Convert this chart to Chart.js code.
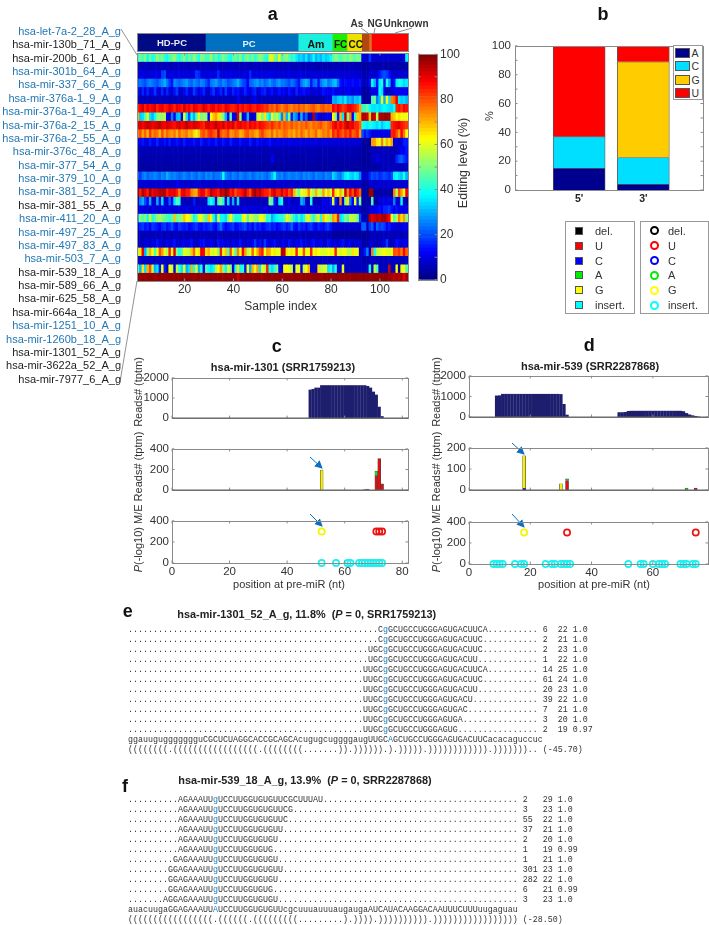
<!DOCTYPE html>
<html>
<head>
<meta charset="utf-8">
<script src="https://cdn.jsdelivr.net/npm/chart.js@4"></script>
<style>
  html, body { margin: 0; padding: 0; background: #fff; }
  #page { position: relative; width: 709px; height: 925px; overflow: hidden; font-family: "Liberation Sans", Arial, sans-serif; color: #333; filter: blur(0.35px); }
  #page canvas { position: absolute; }
  .t { position: absolute; white-space: nowrap; line-height: 1; }
  .seq { position: absolute; white-space: pre; font-family: "Liberation Mono", monospace; font-size: 8.33px; line-height: 10px; color: #333; }
  .seq b { color: #1f7fc0; font-weight: normal; }
  .box { position: absolute; border: 1px solid #999; box-sizing: border-box; background: #fff; }
  svg { position: absolute; left: 0; top: 0; }
</style>
</head>
<body>
<div id="page">
  <svg width="709" height="925">
    <defs>
      <marker id="head" markerWidth="8" markerHeight="8" refX="7" refY="4" orient="auto"><path d="M0,0 L8,4 L0,8 Z" fill="#0a6fc0"/></marker>
    </defs>
    <g stroke="#777" stroke-width="0.8" fill="none">
      <path d="M121,29 L137,55"/>
      <path d="M137,281 L120,382"/>
      <path d="M361,28 L368,33"/>
      <path d="M375,28 L374,33"/>
      <path d="M395,33 L412,28"/>
    </g>
    <g stroke="#0a6fc0" stroke-width="1" fill="none" marker-end="url(#head)">
      <path d="M310,457 L322,468"/>
      <path d="M310,514 L322,526"/>
      <path d="M512,443 L524,454"/>
      <path d="M512,514 L524,527"/>
    </g>
  </svg>
</div>
<script>
// panel a
const mirNames = ["hsa-let-7a-2_28_A_g","hsa-mir-130b_71_A_g","hsa-mir-200b_61_A_g","hsa-mir-301b_64_A_g","hsa-mir-337_66_A_g","hsa-mir-376a-1_9_A_g","hsa-mir-376a-1_49_A_g","hsa-mir-376a-2_15_A_g","hsa-mir-376a-2_55_A_g","hsa-mir-376c_48_A_g","hsa-mir-377_54_A_g","hsa-mir-379_10_A_g","hsa-mir-381_52_A_g","hsa-mir-381_55_A_g","hsa-mir-411_20_A_g","hsa-mir-497_25_A_g","hsa-mir-497_83_A_g","hsa-mir-503_7_A_g","hsa-mir-539_18_A_g","hsa-mir-589_66_A_g","hsa-mir-625_58_A_g","hsa-mir-664a_18_A_g","hsa-mir-1251_10_A_g","hsa-mir-1260b_18_A_g","hsa-mir-1301_52_A_g","hsa-mir-3622a_52_A_g","hsa-mir-7977_6_A_g"];
const mirBlue = [1,0,0,1,1,1,1,1,1,1,1,1,1,0,1,1,1,1,0,0,0,0,1,1,0,0,0];

const heatRows = [
  [42,48,45,50,38,48,40,44,52,46,50,42,38,46,48,52,44,40,46,50,42,48,44,52,46,40,50,48,44,46,52,42,48,40,44,50,46,42,38,46,48,44,52,40,46,50,44,48,42,46,52,48,44,40,58,64,50,46,62,44,48,52,46,40,44,36,32,34,30,36,28,32,38,30,34,30,36,32,34,38,46,50,48,44,48,50,46,52,48,46,50,48,10,8,8,18,8,8,8,8,8,8,8,8,8,8,8,8,8,10,38],
  [6,6,5,7,6,5,6,7,5,6,6,5,7,6,5,6,6,7,5,6,6,5,6,7,5,6,6,5,7,6,5,6,6,7,5,6,6,5,6,7,5,6,6,5,7,6,5,6,6,7,5,6,6,5,6,6,7,5,6,6,5,6,7,5,6,5,6,5,5,6,5,5,6,5,4,5,4,5,4,4,6,5,5,6,5,5,6,5,6,5,5,5,3,3,3,6,4,4,4,4,5,4,4,4,4,4,4,4,4,4,4],
  [8,9,10,8,9,10,8,11,10,9,18,20,9,8,10,9,8,11,9,8,10,9,8,10,18,16,9,10,8,9,11,8,10,16,9,8,10,9,11,8,10,9,8,10,9,8,16,10,9,11,8,10,9,8,11,10,9,8,10,9,8,9,10,8,9,8,9,10,8,9,8,9,8,9,8,8,9,8,8,9,8,8,9,8,9,8,8,8,9,8,8,8,5,5,5,8,8,8,8,14,18,20,18,14,8,8,8,8,8,8,8],
  [22,24,22,20,24,26,24,22,20,24,26,30,24,18,14,26,24,22,24,26,28,24,22,26,24,22,26,24,20,16,24,26,28,24,22,26,24,20,22,24,26,30,24,20,18,12,22,24,26,28,24,26,22,24,28,24,22,26,28,24,24,22,20,24,22,18,14,24,28,30,26,14,22,24,14,24,28,30,24,26,30,32,24,14,12,14,12,12,14,12,12,14,6,6,6,14,38,30,14,36,40,14,40,30,10,14,36,40,38,34,36],
  [14,8,16,10,16,8,12,18,10,8,16,8,16,10,6,14,18,8,6,12,16,10,8,18,14,8,12,16,8,6,14,18,10,12,16,8,18,12,8,16,12,14,8,12,16,12,8,14,16,8,10,14,16,8,12,14,8,10,14,10,12,8,14,12,8,16,10,12,14,10,12,8,8,10,8,10,14,12,10,12,14,10,10,10,8,10,12,10,8,10,10,10,3,3,3,6,10,10,10,38,35,10,6,6,8,10,12,10,12,12,10],
  [6,5,6,5,6,5,6,6,5,6,5,6,6,5,6,5,6,6,5,6,5,6,6,5,6,5,6,6,5,6,5,6,6,5,6,5,6,6,5,6,5,12,6,5,6,5,6,6,12,6,5,6,6,5,6,5,6,6,5,6,5,6,6,6,5,6,4,4,4,4,4,4,4,4,4,4,4,8,8,8,30,28,32,34,30,36,28,30,26,32,30,34,4,3,3,5,45,48,25,32,60,30,62,35,75,78,90,35,32,34,30],
  [85,88,92,85,90,86,88,92,84,88,90,85,86,92,88,84,90,88,85,92,86,88,84,90,88,85,86,92,88,84,88,90,85,88,86,84,90,88,85,84,86,90,85,88,84,86,88,85,84,88,86,85,82,84,78,80,76,82,78,74,78,80,76,74,78,76,80,76,78,74,76,78,80,76,74,78,80,76,78,76,88,84,90,86,82,84,88,90,86,84,80,72,42,44,48,38,35,35,36,34,36,38,36,35,34,38,84,86,82,88,86],
  [70,32,35,45,60,35,30,38,50,52,52,55,12,8,25,10,30,32,10,60,35,20,38,30,45,60,48,52,50,12,62,68,72,65,55,50,30,12,45,10,8,90,50,8,12,30,8,6,10,55,60,48,65,45,35,60,50,55,45,25,70,30,50,15,30,25,10,30,15,22,6,8,95,15,10,8,8,10,12,10,62,50,15,70,35,95,50,75,12,40,68,70,95,95,92,68,95,92,55,95,96,97,97,97,70,68,62,65,62,60,62],
  [90,92,88,90,94,92,88,90,92,94,90,88,92,90,88,86,90,92,88,90,94,90,88,92,90,88,86,84,90,92,88,90,94,90,88,92,86,90,88,92,84,88,90,86,88,84,90,86,88,84,88,86,84,82,80,84,80,78,82,76,80,78,76,80,76,78,74,78,76,80,76,74,78,76,78,80,76,74,78,80,86,90,84,88,84,90,94,88,90,84,84,78,42,38,36,40,38,36,34,38,32,36,38,36,84,86,88,90,86,84,82],
  [76,80,72,78,70,82,74,78,76,70,80,72,78,74,72,76,70,78,72,74,76,70,72,66,60,68,78,80,76,82,84,80,78,95,80,76,78,82,72,74,78,76,70,72,78,80,74,76,72,70,78,82,76,74,72,78,70,76,72,74,78,76,72,74,70,76,72,78,74,70,76,72,74,78,70,72,76,74,78,72,84,80,86,82,78,84,80,86,78,80,84,72,20,14,18,14,10,10,10,10,10,10,10,10,84,86,80,72,88,76,62],
  [10,10,14,10,9,15,10,11,16,10,9,14,10,15,9,11,14,10,9,15,10,11,10,14,9,10,15,10,9,14,11,10,15,9,10,14,10,9,15,11,10,9,14,10,9,10,15,10,9,14,10,11,9,10,14,10,9,11,10,9,10,9,11,10,9,10,9,10,9,9,10,9,9,10,8,9,9,10,8,9,9,8,9,8,9,8,9,8,8,9,8,8,3,3,3,3,72,72,65,60,75,58,70,65,72,8,8,8,8,15,15],
  [5,6,5,5,6,5,6,5,5,6,5,6,5,5,6,5,6,5,5,6,5,6,5,5,6,5,6,5,5,6,5,6,5,5,6,5,6,5,5,6,5,6,5,5,6,5,6,5,5,6,5,6,5,5,6,5,6,5,5,6,5,5,6,5,5,6,5,5,6,5,5,5,6,5,5,5,6,5,5,5,5,5,6,5,5,5,5,6,5,5,5,5,3,3,3,4,6,6,6,6,6,6,6,6,6,6,6,8,12,10,14],
  [5,4,5,4,5,4,5,5,4,5,4,5,4,5,4,5,5,4,5,4,5,4,5,4,5,5,4,5,4,5,4,5,4,5,5,4,5,4,5,4,5,4,5,5,4,5,4,5,4,5,4,5,5,4,5,12,5,4,5,4,5,4,5,5,4,5,4,5,4,5,4,5,4,5,4,4,5,4,5,4,5,4,4,5,4,5,4,4,5,4,4,4,3,3,3,4,6,6,10,8,6,6,6,6,6,6,16,20,22,18,14],
  [4,4,3,4,4,3,4,4,3,4,4,3,4,4,3,4,4,3,4,4,3,4,4,3,4,4,3,4,4,3,4,4,3,4,4,3,4,4,3,4,4,3,4,4,3,4,4,3,4,4,3,4,4,3,4,4,3,4,4,3,4,4,3,4,4,3,4,4,3,4,4,3,4,4,3,4,4,3,4,4,3,4,4,3,4,4,3,4,4,3,4,4,3,3,3,3,4,4,4,4,6,6,6,6,6,6,6,6,6,6,6],
  [22,18,24,26,22,24,24,26,24,22,26,24,30,26,24,26,24,22,24,26,24,22,26,24,22,26,24,22,26,24,26,22,24,24,26,38,26,24,22,26,24,22,26,24,22,24,26,22,24,26,24,26,24,22,26,30,38,26,24,26,22,24,26,24,24,26,24,22,26,24,26,24,22,26,24,24,22,26,24,24,34,30,26,24,30,36,38,34,32,36,34,26,8,7,8,16,20,18,20,16,18,20,18,16,20,36,38,34,32,40,30],
  [8,7,8,9,8,7,8,8,7,8,9,8,7,8,8,7,12,8,9,7,8,8,7,8,9,8,7,8,8,7,8,8,7,9,8,8,7,8,8,7,8,9,8,7,8,8,7,8,8,7,8,9,8,7,8,8,7,8,8,7,8,8,7,8,8,7,8,8,7,8,8,7,8,8,7,8,7,8,8,7,8,7,8,8,7,8,7,8,7,8,7,8,4,4,4,8,8,8,8,8,8,8,8,8,8,8,8,8,8,8,8],
  [98,85,95,90,85,98,88,92,92,95,95,95,85,90,88,90,85,75,88,90,85,85,75,72,70,85,90,88,80,85,95,90,88,85,95,92,98,95,85,88,80,85,85,88,95,85,80,92,98,90,95,88,85,85,80,88,92,85,85,92,85,88,80,85,70,55,48,62,58,65,75,60,52,70,58,55,72,60,68,58,85,65,62,70,58,92,75,88,80,92,85,78,4,3,3,98,98,4,4,4,4,4,4,4,4,75,55,80,72,62,88],
  [6,25,30,20,12,30,8,8,30,12,35,8,10,22,12,35,45,40,6,6,6,6,6,15,6,6,6,8,6,35,40,35,8,45,50,40,8,35,8,30,6,35,6,6,6,6,6,6,6,6,6,6,6,6,50,45,15,6,35,40,8,6,12,6,6,8,8,30,25,6,6,40,6,6,6,6,12,10,8,15,60,15,6,75,8,50,65,25,12,60,15,50,4,4,4,4,45,4,4,8,10,10,10,10,8,25,8,8,38,8,4],
  [8,9,10,8,9,8,10,9,8,9,10,8,9,10,8,9,8,10,9,8,10,9,8,9,10,8,9,8,10,9,8,9,10,8,9,8,10,9,8,9,10,8,9,8,10,9,8,9,10,8,9,8,10,9,8,9,10,8,9,8,10,9,8,9,10,8,9,8,10,9,8,9,10,8,9,8,10,9,8,9,10,8,9,8,10,9,8,9,10,8,9,8,4,4,4,8,10,10,12,14,12,16,16,18,14,12,14,10,12,10,10],
  [30,52,45,50,38,60,40,45,52,55,50,48,45,42,45,68,48,50,52,68,62,60,55,38,45,60,60,52,45,68,60,40,30,60,38,38,35,50,62,48,40,42,40,60,62,45,60,55,52,50,62,60,55,40,42,30,35,38,42,40,45,60,55,50,40,35,45,35,40,58,58,50,42,52,60,40,68,60,58,50,72,68,85,35,40,50,45,58,55,55,48,20,5,5,5,95,90,92,95,92,96,97,92,88,62,45,55,75,65,72,50],
  [12,16,18,14,16,12,18,16,14,12,16,18,14,16,20,14,12,18,16,14,16,12,14,16,18,14,12,16,14,16,18,14,12,18,24,16,12,14,16,18,12,14,16,18,20,14,16,12,18,14,16,12,14,16,18,14,16,12,14,16,18,14,16,22,14,12,18,14,16,12,16,18,14,12,16,14,12,16,18,14,8,8,8,8,8,8,8,8,8,8,8,8,22,22,8,18,22,12,22,18,20,18,12,15,10,10,8,8,10,12,10],
  [5,6,5,6,6,5,6,6,5,6,7,5,6,6,5,6,7,5,6,6,5,6,7,5,6,6,5,7,6,5,6,6,5,7,6,5,6,6,5,7,6,5,6,6,5,7,6,5,6,7,5,6,6,5,7,6,5,6,6,5,7,6,5,6,6,5,7,6,5,6,6,5,6,6,5,6,5,6,5,6,3,3,3,3,3,3,3,3,3,3,3,3,3,3,3,5,6,6,5,6,6,6,5,6,6,5,6,6,5,6,6],
  [5,8,6,8,10,6,12,8,14,10,8,6,12,8,10,14,8,6,10,12,8,10,14,8,6,10,12,14,8,10,12,8,6,14,10,12,8,10,6,12,8,10,14,8,6,10,8,12,18,10,14,8,18,12,8,10,14,8,6,12,10,8,14,10,6,12,10,14,8,10,6,12,14,8,10,12,6,8,14,10,8,10,6,12,14,8,10,12,6,10,8,10,4,4,4,8,8,6,6,6,8,10,18,6,6,8,14,12,8,10,10],
  [55,65,90,30,50,70,62,45,60,80,72,60,55,85,62,90,50,40,45,62,58,55,68,78,60,65,90,88,65,70,60,58,62,50,85,60,68,45,80,60,45,75,62,88,72,55,60,78,62,70,80,85,60,72,70,62,65,60,60,95,95,65,60,65,62,85,60,62,80,60,62,85,60,65,62,60,58,60,62,60,62,85,60,58,62,62,55,55,65,60,62,8,8,15,25,8,75,40,55,58,60,62,60,58,62,80,78,82,75,88,78],
  [6,7,6,6,7,6,7,6,6,7,6,7,6,6,7,6,7,6,6,7,6,7,6,6,7,6,7,6,6,7,6,7,6,6,7,6,7,6,6,7,6,7,6,6,7,6,7,6,6,7,6,7,6,6,7,6,7,6,6,7,6,7,6,6,7,6,7,6,6,7,6,7,6,6,7,6,7,6,6,7,6,6,7,6,6,7,6,6,7,6,6,7,4,4,4,6,6,6,6,6,6,6,6,6,6,6,6,6,6,6,6],
  [45,30,65,35,70,80,55,30,35,15,62,15,6,62,58,10,55,42,35,60,30,35,70,40,60,30,40,10,45,38,35,38,55,62,72,50,38,60,50,8,40,65,38,42,15,62,30,70,60,72,35,62,55,85,40,35,42,50,12,8,62,62,60,55,8,60,60,12,55,62,70,8,8,8,65,55,58,60,35,40,30,40,8,8,60,6,6,6,6,6,6,6,6,6,6,38,6,55,45,6,6,6,6,92,6,6,62,4,60,62,45],
  [98,98,98,97,98,98,98,97,98,98,98,97,98,98,98,97,98,98,98,97,98,98,98,97,98,98,98,97,98,98,98,97,98,98,98,97,98,98,98,97,98,92,98,97,98,98,98,97,98,98,98,97,98,98,98,97,98,98,98,97,98,98,98,97,98,98,98,97,98,98,98,97,98,98,98,97,98,98,98,97,98,98,98,97,98,98,98,97,98,98,98,97,98,98,98,97,98,98,98,97,98,98,98,97,96,94,96,94,96,90,96]
];
const sampleIndex = heatRows[0].map((v, i) => i + 1);

const groupNames = ["HD-PC", "PC", "Am", "FC", "CC", "As", "NG", "Unknown"];
const groupSizes = [28, 38, 14, 6, 6, 3, 1, 15];
const groupColors = ["#000a85", "#0070c0", "#19f0e0", "#18f000", "#f0e000", "#b0480f", "#e07020", "#ff0000"];
const colorbarLevels = Array.from({ length: 64 }, (v, i) => (i + 0.5) * 100 / 64);

// panel b
const endLabels = ["5'", "3'"];
const endPositions = [1, 2];
const baseA = [15, 4];
const baseC = [22, 18.5];
const baseG = [0, 66.5];
const baseU = [63, 11];

// panel c
const readPosC = [48,49,50,51,52,53,54,55,56,57,58,59,60,61,62,63,64,65,66,67,68,69,70,71,72,73];
const readValC = [1400,1430,1500,1500,1620,1620,1620,1620,1620,1620,1620,1620,1620,1620,1620,1620,1620,1620,1620,1620,1580,1500,1300,1150,550,80];
const editC_G = [[52, 195]];
const editC_A = [[67, 4], [68, 10], [71, 45]];
const editC_U = [[71, 140], [72, 305], [73, 60]];
const pvalC_G = [52];
const pvalC_U = [71, 72, 73];
const pvalC_ins = [52,57,61,62,65,66,67,68,69,70,71,72,73];

// panel d
const readPosD = [9,10,11,12,13,14,15,16,17,18,19,20,21,22,23,24,25,26,27,28,29,30,31,32,49,50,51,52,53,54,55,56,57,58,59,60,61,62,63,64,65,66,67,68,69,70,71,72,73,74,75];
const readValD = [1030,1040,1110,1110,1110,1110,1110,1110,1110,1110,1110,1110,1110,1110,1110,1110,1110,1110,1110,1110,1110,1100,620,100,220,220,230,280,290,290,290,290,290,290,290,290,290,290,290,290,290,290,290,290,290,270,180,110,70,40,10];
const editD_C = [[18, 8]];
const editD_G = [[18, 155], [30, 30]];
const editD_U = [[32, 45], [74, 10]];
const editD_A = [[32, 8], [71, 10]];
const pvalD_G = [18];
const pvalD_U = [32, 74];
const pvalD_ins = [8,9,10,11,15,17,18,25,27,28,30,31,32,33,52,56,57,60,62,63,64,69,70,71,73,74];

// panels e, f
const alignE = [
  ["..................................................Cg", "GCUGCCUGGGAGUGACUUCA..........", " 6  22 1.0"],
  ["..................................................Cg", "GCUGCCUGGGAGUGACUUC...........", " 2  21 1.0"],
  ["................................................UGCg", "GCUGCCUGGGAGUGACUUC...........", " 2  23 1.0"],
  ["................................................UGCg", "GCUGCCUGGGAGUGACUU............", " 1  22 1.0"],
  ["...............................................UUGCg", "GCUGCCUGGGAGUGACUUCA..........", " 14 25 1.0"],
  ["...............................................UUGCg", "GCUGCCUGGGAGUGACUUC...........", " 61 24 1.0"],
  ["...............................................UUGCg", "GCUGCCUGGGAGUGACUU............", " 20 23 1.0"],
  ["...............................................UUGCg", "GCUGCCUGGGAGUGACU.............", " 39 22 1.0"],
  ["...............................................UUGCg", "GCUGCCUGGGAGUGAC..............", " 7  21 1.0"],
  ["...............................................UUGCg", "GCUGCCUGGGAGUGA...............", " 3  20 1.0"],
  ["...............................................UUGCg", "GCUGCCUGGGAGUG................", " 2  19 0.97"],
  ["ggauuguggggggguCGCUCUAGGCACCGCAGCAcugugcuggggaugUUGCA", "GCUGCCUGGGAGUGACUUCacacaguccuc", ""],
  ["((((((((.(((((((((((((((((.((((((((.......)).)))))).).))))).))))))))))))", ".)))))))..", " (-45.70)"]
];
const alignF = [
  ["..........AGAAAUUg", "UCCUUGGUGUGUUCGCUUUAU.......................................", " 2   29 1.0"],
  ["..........AGAAAUUg", "UCCUUGGUGUGUUCG.............................................", " 3   23 1.0"],
  ["..........AGAAAUUg", "UCCUUGGUGUGUUC..............................................", " 55  22 1.0"],
  ["..........AGAAAUUg", "UCCUUGGUGUGUU...............................................", " 37  21 1.0"],
  ["..........AGAAAUUg", "UCCUUGGUGUGU................................................", " 2   20 1.0"],
  ["..........AGAAAUUg", "UCCUUGGUGUG.................................................", " 1   19 0.99"],
  [".........GAGAAAUUg", "UCCUUGGUGUGU................................................", " 1   21 1.0"],
  ["........GGAGAAAUUg", "UCCUUGGUGUGUU...............................................", " 301 23 1.0"],
  ["........GGAGAAAUUg", "UCCUUGGUGUGU................................................", " 282 22 1.0"],
  ["........GGAGAAAUUg", "UCCUUGGUGUG.................................................", " 6   21 0.99"],
  [".......AGGAGAAAUUg", "UCCUUGGUGUGU................................................", " 3   23 1.0"],
  ["auacuugaGGAGAAAUUA", "UCCUUGGUGUGUUcgcuuuauuuaugaugaAUCAUACAAGGACAAUUUCUUUuugaguau", ""],
  ["(((((((((((((((((.((((((.(((((((((.........).)))).))))))))))", ".)))))))))))))))))", " (-28.50)"]
];

const page = document.getElementById("page");
const tickColor = "#333";
const frameColor = "#8a8a8a";
const noGrid = { display: false, drawTicks: false };
const plainNumber = (v) => String(v);

function jet(v) {
  let t = Math.min(Math.max(v / 100, 0), 1);
  let r = Math.min(Math.max(Math.min(4 * t - 1.5, -4 * t + 4.5), 0), 1);
  let g = Math.min(Math.max(Math.min(4 * t - 0.5, -4 * t + 3.5), 0), 1);
  let b = Math.min(Math.max(Math.min(4 * t + 0.5, -4 * t + 2.5), 0), 1);
  return `rgb(${Math.round(r * 255)},${Math.round(g * 255)},${Math.round(b * 255)})`;
}

function text(html, x, y, opts = {}) {
  let el = document.createElement("div");
  el.className = "t";
  el.innerHTML = html;
  el.style.left = x + "px";
  el.style.top = y + "px";
  el.style.fontSize = (opts.size || 11) + "px";
  if (opts.bold) el.style.fontWeight = "bold";
  el.style.color = opts.color || "#333";
  let ax = opts.align === "right" ? "-100%" : opts.align === "left" ? "0" : "-50%";
  el.style.transform = `translate(${ax},-50%)` + (opts.rot ? ` rotate(${opts.rot}deg)` : "");
  page.appendChild(el);
}

function addCanvas(left, top, width, height) {
  let c = document.createElement("canvas");
  c.width = width;
  c.height = height;
  c.style.left = left + "px";
  c.style.top = top + "px";
  c.style.width = width + "px";
  c.style.height = height + "px";
  page.appendChild(c);
  return c;
}

// box round the plot with short inward ticks
const framePlugin = {
  id: "frame",
  afterDatasetsDraw(chart, args, opts) {
    let { ctx, chartArea: a, scales } = chart;
    ctx.save();
    ctx.strokeStyle = frameColor;
    ctx.lineWidth = 1;
    ctx.strokeRect(Math.round(a.left) + 0.5, Math.round(a.top) + 0.5, Math.round(a.right - a.left), Math.round(a.bottom - a.top));
    ctx.beginPath();
    if (scales.x && opts.ticksX !== false) {
      scales.x.ticks.forEach((t, i) => {
        if (t.label === "" || t.label === undefined) return;
        let px = scales.x.getPixelForTick(i);
        ctx.moveTo(px, a.bottom); ctx.lineTo(px, a.bottom - 2.5);
        ctx.moveTo(px, a.top); ctx.lineTo(px, a.top + 2.5);
      });
    }
    if (scales.y && opts.ticksY !== false) {
      let ys = scales.y.ticks.map((t) => t.value).concat(opts.minorY || []);
      ys.forEach((v) => {
        let py = scales.y.getPixelForValue(v);
        ctx.moveTo(a.left, py); ctx.lineTo(a.left + 2.5, py);
        ctx.moveTo(a.right, py); ctx.lineTo(a.right - 2.5, py);
      });
    }
    ctx.stroke();
    if (opts.baseline) {
      ctx.strokeStyle = "#666";
      ctx.lineWidth = 1.4;
      ctx.beginPath();
      ctx.moveTo(a.left, a.bottom); ctx.lineTo(a.right, a.bottom);
      ctx.stroke();
    }
    ctx.restore();
  }
};

// builds a chart whose plot area lands on rect {l,t,r,b} of the page
function plot(rect, cfg) {
  let yw = 50, xh = cfg.xh || 0, pad = 9, padR = 18;
  let w = rect.r - rect.l, h = rect.b - rect.t;
  let canvas = addCanvas(rect.l - yw, rect.t - pad, w + yw + padR, h + pad + xh + pad);
  let x = Object.assign({ grid: noGrid, border: { display: false } }, cfg.x);
  x.afterFit = (s) => { s.height = xh; };
  let y = Object.assign({ grid: noGrid, border: { display: false } }, cfg.y);
  y.afterFit = (s) => { s.width = yw; };
  return new Chart(canvas, {
    type: cfg.type,
    data: cfg.data,
    options: {
      indexAxis: cfg.indexAxis || "x",
      responsive: false,
      animation: false,
      devicePixelRatio: 1,
      layout: { padding: { top: pad, right: padR, bottom: pad, left: 0 } },
      plugins: { legend: { display: false }, tooltip: { enabled: false }, frame: cfg.frame || {} },
      scales: { x, y }
    },
    plugins: [framePlugin]
  });
}

const tickFont = { family: "Liberation Sans", size: 11.5 };

// a: heat map, one stacked bar per sample and one dataset per miRNA
plot({ l: 137, t: 53, r: 408, b: 281 }, {
  type: "bar",
  xh: 18,
  data: {
    labels: sampleIndex,
    datasets: heatRows.map((row) => ({
      data: row.map(() => 1),
      backgroundColor: row.map(jet),
      barPercentage: 1,
      categoryPercentage: 1,
      stack: "h"
    }))
  },
  x: {
    stacked: true,
    ticks: {
      autoSkip: false, maxRotation: 0, font: { family: "Liberation Sans", size: 12 }, color: tickColor, padding: 1,
      callback(v, i) { return sampleIndex[i] % 20 === 0 ? sampleIndex[i] : ""; }
    }
  },
  y: { stacked: true, reverse: true, min: 0, max: 27, ticks: { display: false } },
  frame: { ticksY: false }
});

// a: sample groups above the heat map
plot({ l: 137, t: 33, r: 408, b: 51 }, {
  type: "bar",
  indexAxis: "y",
  data: {
    labels: [""],
    datasets: groupNames.map((name, i) => ({
      label: name,
      data: [groupSizes[i]],
      backgroundColor: groupColors[i],
      barPercentage: 1,
      categoryPercentage: 1,
      stack: "g"
    }))
  },
  x: { stacked: true, min: 0, max: 111, offset: false, ticks: { display: false } },
  y: { stacked: true, ticks: { display: false } },
  frame: { ticksX: false, ticksY: false }
});

// a: colour bar, ticks on the right
(function () {
  let canvas = addCanvas(418, 44, 60, 246);
  new Chart(canvas, {
    type: "bar",
    data: {
      labels: [""],
      datasets: colorbarLevels.map((v) => ({
        data: [100 / colorbarLevels.length],
        backgroundColor: jet(v),
        barPercentage: 1,
        categoryPercentage: 1,
        stack: "c"
      }))
    },
    options: {
      responsive: false,
      animation: false,
      devicePixelRatio: 1,
      layout: { padding: { top: 9, bottom: 9, left: 0, right: 0 } },
      plugins: { legend: { display: false }, tooltip: { enabled: false }, frame: { ticksX: false, minorY: [10, 30, 50, 70, 90] } },
      scales: {
        x: { stacked: true, grid: noGrid, border: { display: false }, ticks: { display: false }, afterFit: (s) => { s.height = 0; } },
        y: {
          stacked: true, position: "right", min: 0, max: 100,
          grid: noGrid, border: { display: false },
          ticks: { stepSize: 20, font: { family: "Liberation Sans", size: 12 }, color: tickColor, padding: 3 },
          afterFit: (s) => { s.width = 41; }
        }
      }
    },
    plugins: [framePlugin]
  });
})();

// b: stacked 5' and 3' ends
plot({ l: 515, t: 44, r: 703, b: 190 }, {
  type: "bar",
  xh: 18,
  data: {
    datasets: [["A", baseA, "#00008f"], ["C", baseC, "#00dfff"], ["G", baseG, "#ffcc00"], ["U", baseU, "#ff0000"]].map(([name, vals, color]) => ({
      label: name,
      data: endPositions.map((p, i) => ({ x: p, y: vals[i] })),
      backgroundColor: color,
      borderColor: "#5a5a5a",
      borderWidth: 0.8,
      barThickness: 52,
      stack: "ends"
    }))
  },
  x: {
    type: "linear", stacked: true, offset: false, min: 0, max: 2.93,
    afterBuildTicks: (s) => { s.ticks = endPositions.map((p) => ({ value: p })); },
    ticks: { font: { family: "Liberation Sans", size: 10.5, weight: "bold" }, color: "#222", padding: 3, callback: (v) => endLabels[endPositions.indexOf(v)] }
  },
  y: { stacked: true, min: 0, max: 100, ticks: { stepSize: 20, font: tickFont, color: tickColor, padding: 4 } },
  frame: { minorY: [10, 30, 50, 70, 90], ticksX: false }
});

function readsPlot(rect, xMax, pos, vals, thick) {
  plot(rect, {
    type: "bar",
    data: {
      datasets: [{
        data: pos.map((p, i) => ({ x: p, y: vals[i] })),
        backgroundColor: "#1e1e6e",
        barThickness: thick
      }]
    },
    x: { type: "linear", offset: false, min: 0, max: xMax, ticks: { display: false, stepSize: 20, includeBounds: false } },
    y: { min: 0, max: 2000, ticks: { stepSize: 1000, font: tickFont, color: tickColor, padding: 3, callback: plainNumber } },
    frame: { baseline: true }
  });
}

function editsPlot(rect, xMax, yMax, series, thick) {
  plot(rect, {
    type: "bar",
    data: {
      datasets: series.map(([pts, color]) => ({
        data: pts.map(([x, y]) => ({ x, y })),
        backgroundColor: color,
        borderColor: "#444",
        borderWidth: 0.6,
        barThickness: thick,
        stack: "e"
      }))
    },
    x: { type: "linear", stacked: true, offset: false, min: 0, max: xMax, ticks: { display: false, stepSize: 20, includeBounds: false } },
    y: { stacked: true, min: 0, max: yMax, ticks: { stepSize: yMax / 2, font: tickFont, color: tickColor, padding: 3 } },
    frame: { baseline: true }
  });
}

function pvalPlot(rect, xMax, g, u, ins) {
  let ring = (xs, y, color) => ({
    data: xs.map((x) => ({ x, y })),
    borderColor: color,
    backgroundColor: "rgba(0,0,0,0)",
    borderWidth: 1.7,
    pointRadius: 3.1,
    clip: false
  });
  plot(rect, {
    type: "scatter",
    xh: 14,
    data: { datasets: [ring(ins, 0, "#19f0f0"), ring(u, 300, "#ee1111"), ring(g, 300, "#f5f500")] },
    x: { type: "linear", min: 0, max: xMax, ticks: { stepSize: 20, includeBounds: false, maxRotation: 0, font: tickFont, color: tickColor, padding: 2 } },
    y: { min: 0, max: 400, ticks: { stepSize: 200, font: tickFont, color: tickColor, padding: 3 } },
    frame: {}
  });
}

// c
readsPlot({ l: 172, t: 377, r: 408, b: 419 }, 82, readPosC, readValC, 2.5);
editsPlot({ l: 172, t: 448, r: 408, b: 491 }, 82, 400, [[editC_U, "#e01010"], [editC_G, "#f5f000"], [editC_A, "#22dd22"]], 2.9);
pvalPlot({ l: 172, t: 520, r: 408, b: 563 }, 82, pvalC_G, pvalC_U, pvalC_ins);

// d
readsPlot({ l: 469, t: 375, r: 708, b: 418 }, 78, readPosD, readValD, 2.65);
editsPlot({ l: 469, t: 447, r: 708, b: 491 }, 78, 200, [[editD_C, "#0808d0"], [editD_U, "#e01010"], [editD_G, "#f5f000"], [editD_A, "#22cc22"]], 3);
pvalPlot({ l: 469, t: 521, r: 708, b: 564 }, 78, pvalD_G, pvalD_U, pvalD_ins);

// labels, row names
mirNames.forEach((n, i) => {
  text(n, 121, 31 + i * 13.37, { align: "right", size: 11, color: mirBlue[i] ? "#1f77b4" : "#1c1c1c" });
});
text("a", 272.7, 14, { size: 18, bold: true, color: "#111" });
text("b", 603, 14, { size: 18, bold: true, color: "#111" });
text("c", 276.7, 346, { size: 18, bold: true, color: "#111" });
text("d", 589.3, 345, { size: 18, bold: true, color: "#111" });
text("e", 127.7, 611, { size: 18, bold: true, color: "#111" });
text("f", 125, 786, { size: 18, bold: true, color: "#111" });

text("HD-PC", 172, 43, { size: 9.5, bold: true, color: "#e8e8f0" });
text("PC", 249, 44, { size: 9.5, bold: true, color: "#e8f0f8" });
text("Am", 316, 44, { size: 10.5, bold: true, color: "#111" });
text("FC", 340.7, 45, { size: 10, bold: true, color: "#111" });
text("CC", 355.7, 45, { size: 10, bold: true, color: "#111" });
text("As", 357, 23.5, { size: 10, bold: true });
text("NG", 375, 23.5, { size: 10, bold: true });
text("Unknown", 406, 23.5, { size: 10, bold: true });
text("Sample index", 280.7, 305.5, { size: 12 });
text("Editing level (%)", 463, 163, { size: 12.5, rot: -90 });

text("%", 489, 116, { size: 11, rot: -90 });

function legendBox(x, y, w, h) {
  let el = document.createElement("div");
  el.className = "box";
  el.style.cssText = `left:${x}px;top:${y}px;width:${w}px;height:${h}px`;
  page.appendChild(el);
}
function swatch(x, y, w, h, css) {
  let el = document.createElement("div");
  el.style.cssText = `position:absolute;box-sizing:border-box;left:${x}px;top:${y}px;width:${w}px;height:${h}px;${css}`;
  page.appendChild(el);
}

const legendEnd = ["A", "C", "G", "U"];
const legendEndColors = ["#00008f", "#00dfff", "#ffcc00", "#ff0000"];
legendBox(673, 45, 30, 55);
legendEnd.forEach((n, i) => {
  let y = 53 + i * 13.4;
  swatch(675, y - 5, 15, 10, `background:${legendEndColors[i]};border:0.6px solid #555`);
  text(n, 691.5, y, { size: 10.5, align: "left" });
});

const legendEdit = ["del.", "U", "C", "A", "G", "insert."];
const legendEditColors = ["#000000", "#ff0000", "#0000ff", "#00ee00", "#ffff00", "#00ffff"];
legendBox(565, 221, 70, 93);
legendBox(640, 221, 69, 93);
legendEdit.forEach((n, i) => {
  let y = 230.7 + i * 14.9;
  swatch(575, y - 4, 8, 8, `background:${legendEditColors[i]};border:0.6px solid #555`);
  text(n, 595, y, { size: 11, align: "left" });
  swatch(649.5, y - 4.5, 9, 9, `border:2px solid ${legendEditColors[i]};border-radius:50%`);
  text(n, 668, y, { size: 11, align: "left" });
});

// c, d titles and axis names
text("hsa-mir-1301 (SRR1759213)", 283, 367, { size: 11, bold: true, color: "#222" });
text("hsa-mir-539 (SRR2287868)", 590, 366, { size: 11, bold: true, color: "#222" });
text("Reads# (tptm)", 138, 392, { size: 11, rot: -90 });
text("<i>P</i>(-log10) M/E Reads# (tptm)", 138, 501.7, { size: 11, rot: -90 });
text("Reads# (tptm)", 436, 392, { size: 11, rot: -90 });
text("<i>P</i>(-log10) M/E Reads# (tptm)", 436, 501.7, { size: 11, rot: -90 });
text("position at pre-miR (nt)", 289, 584, { size: 11 });
text("position at pre-miR (nt)", 594, 584, { size: 11 });

// e, f
text("hsa-mir-1301_52_A_g, 11.8% &nbsp;(<i>P</i> = 0, SRR1759213)", 177.3, 614, { size: 10.9, bold: true, align: "left", color: "#222" });
text("hsa-mir-539_18_A_g, 13.9% &nbsp;(<i>P</i> = 0, SRR2287868)", 178.3, 779.5, { size: 10.9, bold: true, align: "left", color: "#222" });

function alignBlock(lines, x, y) {
  let el = document.createElement("div");
  el.className = "seq";
  el.style.left = x + "px";
  el.style.top = y + "px";
  el.innerHTML = lines.map(([head, tail, note]) => {
    let last = head.slice(-1);
    if (/[gA]/.test(last) && head[0] !== "(") return head.slice(0, -1) + "<b>" + last + "</b>" + tail + note;
    return head + tail + note;
  }).join("\n");
  page.appendChild(el);
}
alignBlock(alignE, 128, 625);
alignBlock(alignF, 128, 795);
</script>
</body>
</html>
